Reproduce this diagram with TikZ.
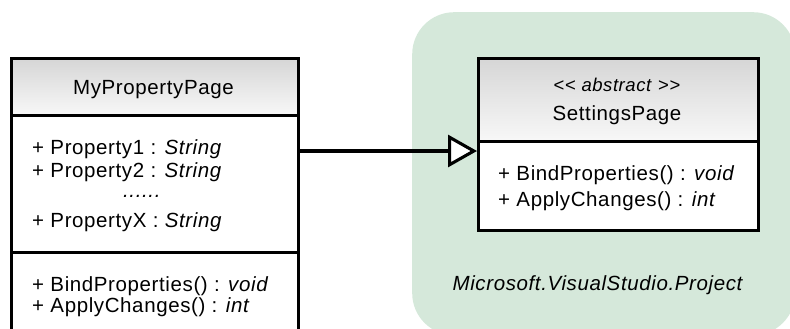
\documentclass[tikz,border=0pt]{standalone}
\usepackage{fontspec}
\setmainfont{Liberation Sans}[Ligatures=TeXOff, LetterSpace=3]
\usetikzlibrary{arrows.meta}
\definecolor{pkggreen}{HTML}{D5E8DA}
\definecolor{hdtop}{HTML}{D6D6D6}
\definecolor{hdbot}{HTML}{F8F8F8}
\begin{document}
\begin{tikzpicture}[x=1pt,y=-1pt,
  box/.style={draw=black, line width=3.1pt, rectangle, inner sep=0pt, anchor=north west},
  header/.style={box, top color=hdtop, bottom color=hdbot},
  compart/.style={box, fill=white},
  txt/.style={inner sep=0pt, font=\fontsize{20.5}{24}\selectfont},
  member/.style={txt, anchor=base west},
  title/.style={txt, anchor=base},
  generalization/.style={line width=3.1pt, -{Triangle[open, length=29pt, width=32pt, fill=white]}}]
\useasboundingbox (0,0) rectangle (790,329);
\clip (0,0) rectangle (790,329);

% package area
\node[fill=pkggreen, rounded corners=42pt, minimum width=383pt, minimum height=323pt,
      anchor=north west, inner sep=0pt] (pkg) at (412,12) {};
\node[title, font=\itshape\fontsize{20.5}{24}\selectfont] (pkgname) at (597.5,290) {Microsoft.VisualStudio.Project};

% class MyPropertyPage
\node[header,  minimum width=287pt, minimum height=57pt]  (lhead) at (10,57) {};
\node[compart, minimum width=287pt, minimum height=137pt] (lattr) at (10,114) {};
\node[compart, minimum width=287pt, minimum height=100pt] (lops)  at (10,251) {};
\node[title] (lname) at (153.5,95) {MyPropertyPage};
\node[member] (lp1) at (32,154) {+ Property1 : \textit{String}};
\node[member] (lp2) at (32,177) {+ Property2 : \textit{String}};
\node[member] (lpd) at (123,197) {\textit{......}};
\node[member] (lpx) at (32,227) {+ PropertyX : \textit{String}};
\node[member] (lm1) at (32,291) {+ BindProperties() : \textit{void}};
\node[member] (lm2) at (32,312) {+ ApplyChanges() : \textit{int}};

% abstract class SettingsPage
\node[header,  minimum width=280pt, minimum height=83pt] (rhead) at (477,57) {};
\node[compart, minimum width=280pt, minimum height=89pt] (rops)  at (477,140) {};
\node[title, font=\fontsize{18.5}{21}\selectfont] (rstereo) at (617,92) {<< \textit{abstract} >>};
\node[title] (rname) at (617,121) {SettingsPage};
\node[member] (rm1) at (498,180) {+ BindProperties() : \textit{void}};
\node[member] (rm2) at (498,206) {+ ApplyChanges() : \textit{int}};

% inheritance
\draw[generalization] (lattr.east |- 0,151) -- (rops.west |- 0,151);
\end{tikzpicture}
\end{document}
